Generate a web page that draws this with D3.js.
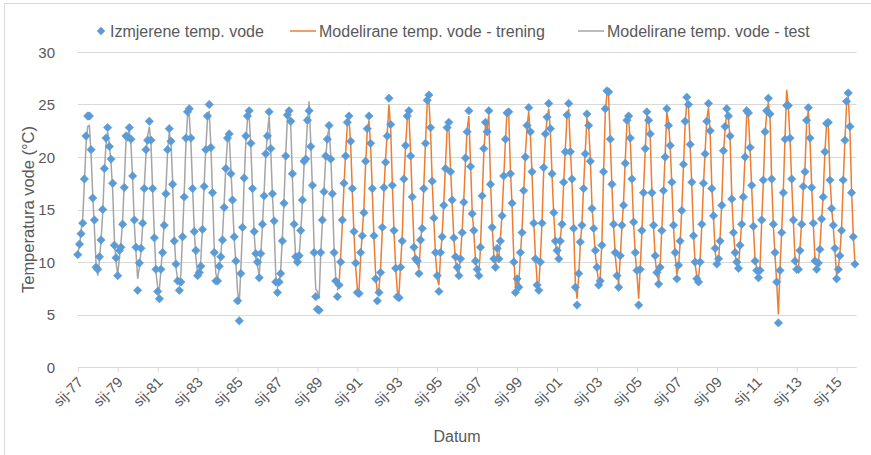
<!DOCTYPE html>
<html><head><meta charset="utf-8">
<script src="https://cdn.jsdelivr.net/npm/d3@7"></script>
<style>body{margin:0;background:#fff}svg{display:block}text{font-family:"Liberation Sans",Arial,sans-serif;fill:#595959}</style>
</head><body><svg id="c" width="871" height="455"></svg>
<script>
// Monthly measured water temperature, Jan 1977 - Dec 2015 (one row per year)
const startYear = 1977;
const measured = [
10.7,11.7,12.7,13.7,17.9,22.0,23.9,23.9,20.7,16.1,14.0,9.5,
9.3,10.5,12.1,15.0,18.9,21.8,22.8,21.0,19.8,17.5,11.6,10.4,
8.7,11.1,11.4,13.6,17.1,22.0,21.9,22.8,21.7,18.2,14.0,11.4,
7.3,9.9,11.3,13.7,17.0,20.7,21.6,23.4,21.6,17.0,12.3,9.3,
7.2,6.5,9.3,10.9,13.5,16.5,20.7,22.7,21.5,17.4,12.0,9.8,
8.2,7.3,8.1,12.4,16.2,21.8,24.3,24.6,21.8,17.0,12.9,11.1,
8.7,9.0,9.6,13.1,17.2,20.7,23.9,25.0,20.9,16.6,10.9,8.2,
8.2,9.6,10.5,12.1,15.2,18.9,21.8,22.2,18.4,15.9,12.4,10.1,
6.3,4.4,8.9,13.3,18.0,22.0,23.9,24.4,21.3,17.0,12.9,10.8,
10.0,8.5,10.8,13.6,16.3,20.3,22.0,24.3,20.8,16.5,13.9,8.1,
7.1,8.1,8.9,12.0,15.6,20.1,24.0,24.4,23.4,18.4,13.6,10.5,
10.0,10.6,13.0,15.9,19.6,19.8,23.5,24.4,21.0,17.3,10.9,6.7,
5.5,5.4,10.9,14.0,16.7,20.1,21.7,23.0,19.8,16.5,10.9,8.2,
6.7,7.8,10.0,14.0,17.5,20.1,23.3,23.9,21.5,17.0,12.9,9.9,
7.1,7.0,10.9,12.5,14.7,19.6,22.7,23.9,21.3,17.0,12.5,8.4,
6.3,7.1,9.0,13.3,17.1,19.5,22.0,25.6,23.1,17.3,13.0,9.4,
6.7,6.6,9.5,12.0,17.9,21.1,23.9,24.4,20.1,16.2,11.4,10.3,
10.1,8.9,12.1,13.2,17.0,21.3,25.4,25.9,22.8,17.7,14.2,10.9,
8.7,7.2,10.9,12.4,15.4,18.9,22.8,23.3,18.6,15.9,12.3,10.5,
9.5,8.7,10.3,12.8,15.7,19.9,22.4,24.4,19.1,14.6,13.0,10.1,
9.3,8.7,11.4,16.3,20.8,23.3,22.4,24.4,17.4,13.3,10.3,9.5,
11.3,10.3,12.0,14.4,18.2,21.7,24.2,24.3,18.4,15.6,10.0,7.1,
8.4,7.6,10.9,12.8,16.8,20.0,23.0,24.7,22.4,18.6,13.7,10.3,
7.8,7.3,10.0,13.7,19.0,22.2,23.8,25.1,22.7,18.4,14.7,12.0,
11.1,10.3,12.0,13.6,17.6,20.5,24.0,25.1,20.5,17.9,13.2,7.6,
5.9,8.9,11.9,13.5,17.0,20.3,24.1,23.0,19.6,15.1,13.2,11.1,
9.5,7.8,8.2,11.6,18.6,24.6,26.3,26.2,21.7,17.4,13.6,10.9,
8.7,7.6,10.6,13.5,15.4,19.4,23.5,23.9,21.8,17.9,13.8,10.9,
9.2,5.9,9.3,13.0,16.6,20.8,24.3,23.5,22.2,16.6,13.5,10.6,
9.0,7.9,9.5,13.0,16.8,20.0,24.6,23.0,21.1,17.6,13.5,10.9,
8.4,9.7,12.0,14.9,19.3,23.4,25.7,25.0,21.2,17.6,12.5,10.0,
8.4,8.1,10.0,13.6,17.5,20.3,23.4,25.1,22.5,17.0,14.4,11.3,
9.8,10.3,12.0,15.4,20.6,22.9,24.6,23.9,22.0,16.0,12.8,10.9,
10.0,9.4,11.6,13.6,16.2,20.0,24.4,24.2,20.9,17.3,13.4,10.1,
9.2,8.5,9.2,14.0,17.8,22.4,24.4,25.6,24.1,17.9,13.6,10.9,
8.1,4.2,9.2,12.8,16.6,21.7,24.9,24.9,21.8,17.9,14.0,10.1,
9.3,9.3,11.1,13.6,17.2,18.6,23.5,24.7,21.8,17.1,13.7,10.1,
9.3,9.9,11.2,14.1,16.2,20.5,23.2,23.3,17.8,15.1,13.5,11.3,
8.4,9.3,10.6,13.0,17.8,21.6,25.3,26.1,22.9,16.6,12.4,9.8
];
// Modelled - test period, Jan 1977 - Dec 1989
const testStartYear = 1977;
const modelTest = [
10.9,11.5,12.9,14.2,17.5,21.2,22.9,23.0,20.2,16.4,13.2,9.8,
8.7,10.2,12.0,14.6,18.4,21.3,22.4,21.2,19.4,16.8,12.2,10.0,
8.8,10.4,11.8,13.9,17.6,21.4,22.2,22.5,21.2,17.9,13.6,10.9,
8.4,9.5,11.0,13.4,17.2,20.2,22.0,22.9,21.2,16.8,12.6,9.0,
7.6,7.4,9.2,11.3,13.9,17.0,20.5,22.4,21.4,17.8,12.5,9.5,
8.3,7.9,8.8,12.6,16.6,21.2,23.9,24.0,21.3,17.2,13.0,10.4,
8.8,9.1,10.2,13.4,17.4,20.9,23.6,24.4,21.0,16.4,11.4,8.9,
8.4,9.4,10.7,12.6,15.6,19.2,21.6,22.0,18.9,15.6,12.2,10.0,
7.2,6.0,9.3,13.0,17.6,21.4,23.5,23.9,21.0,16.9,12.7,10.4,
9.6,8.8,10.6,13.4,16.6,20.1,22.3,23.9,20.6,16.3,13.2,8.8,
7.6,8.0,9.3,12.3,15.9,20.3,23.6,24.0,23.0,18.0,13.4,10.3,
9.8,10.5,12.7,15.7,19.2,20.3,23.2,25.3,21.3,17.0,11.4,7.4,
7.2,6.5,10.6,13.8,16.9,19.8,21.9,22.8,20.2,16.2,11.3,8.6
];
// Modelled - training period, Jan 1990 - Dec 2015
const trainStartYear = 1990;
const modelTrain = [
7.3,8.0,10.4,13.6,17.2,20.4,23.0,23.6,21.2,16.7,12.6,9.5,
7.5,7.4,10.3,12.8,15.2,19.3,22.4,23.5,21.0,16.8,12.2,8.9,
7.0,7.5,9.4,13.0,16.8,19.9,22.3,25.0,22.7,17.6,12.9,9.6,
7.2,7.0,9.7,12.4,17.5,21.0,23.6,24.1,20.4,16.0,11.7,10.0,
9.8,9.3,11.8,13.6,17.3,21.5,25.0,25.5,22.5,17.6,13.9,10.6,
8.4,7.8,10.5,12.6,15.7,19.3,22.6,23.0,18.9,15.7,12.2,10.1,
9.1,8.9,10.6,13.0,16.0,19.6,22.6,23.9,19.4,14.9,12.7,10.2,
9.0,9.0,11.2,15.8,20.3,22.9,22.8,24.0,17.8,13.6,10.6,9.7,
10.8,10.4,12.2,14.6,18.0,21.5,24.5,24.0,18.7,15.3,10.4,7.6,
8.1,7.9,10.6,13.1,16.6,20.3,22.8,24.3,22.1,18.3,13.9,10.6,
8.2,7.7,10.2,13.9,18.7,21.9,23.6,24.6,22.4,18.2,14.5,11.8,
10.8,10.5,12.2,13.9,17.4,20.8,23.8,24.6,20.8,17.6,13.0,8.0,
6.5,8.7,11.6,13.7,17.2,20.6,23.7,23.0,19.8,15.4,13.0,10.8,
9.2,8.1,8.6,12.0,18.3,24.2,26.0,25.8,21.6,17.2,13.4,10.6,
8.9,7.9,10.4,13.3,15.8,19.7,23.2,23.6,21.5,17.7,13.6,10.7,
8.8,6.5,9.4,12.8,16.9,20.6,24.0,23.7,21.8,16.8,13.3,10.3,
8.8,8.2,9.7,13.2,16.6,20.3,24.3,23.3,21.0,17.3,13.3,10.6,
8.8,9.6,11.8,15.1,19.0,23.1,25.3,24.8,21.0,17.3,12.7,9.8,
8.6,8.4,10.2,13.5,17.3,20.6,23.6,24.7,22.2,17.2,14.2,11.0,
9.9,10.2,12.3,15.6,20.3,22.6,24.3,23.7,21.6,16.3,12.9,10.7,
9.8,9.6,11.5,13.8,16.5,20.2,24.0,23.9,20.6,17.0,13.2,10.2,
9.4,8.8,9.5,13.8,17.6,22.1,24.1,25.2,23.7,17.7,13.4,10.6,
8.0,5.0,9.4,12.9,16.8,21.9,26.4,24.8,21.6,17.6,13.8,10.2,
9.5,9.4,11.3,13.8,17.0,19.0,23.3,24.4,21.6,17.3,13.5,10.3,
9.5,10.0,11.5,14.0,16.5,20.6,23.0,23.1,18.1,15.2,13.3,11.0,
8.7,9.4,10.8,13.2,17.6,21.5,25.0,25.7,22.6,16.9,12.6,10.0
];
const tickYears = [1977,1979,1981,1983,1985,1987,1989,1991,1993,1995,1997,1999,2001,2003,2005,2007,2009,2011,2013,2015];
const tickLabels = ["sij-77","sij-79","sij-81","sij-83","sij-85","sij-87","sij-89","sij-91","sij-93","sij-95","sij-97","sij-99","sij-01","sij-03","sij-05","sij-07","sij-09","sij-11","sij-13","sij-15"];
const yTicks = [0,5,10,15,20,25,30];
const seriesNames = ["Izmjerene temp. vode","Modelirane temp. vode - trening","Modelirane temp. vode - test"];

const C = {blue:"#5B9BD5", orange:"#ED7D31", grey:"#A5A5A5", grid:"#D9D9D9"};
const svg = d3.select("#c");
const L = 77.8, R = 856.6, T = 52, B = 367;

const toPts = (arr, y0) => arr.map((v,i)=>({d:new Date(y0, i, 1), v}));
const meas = toPts(measured, startYear);
const test = toPts(modelTest, testStartYear);
const train = toPts(modelTrain, trainStartYear);

const x = d3.scaleTime().domain([new Date(startYear,0,1), new Date(2016,0,1)]).range([L,R]);
const y = d3.scaleLinear().domain([0,30]).range([B,T]);

// border
svg.append("rect").attr("x",4.5).attr("y",3.5).attr("width",880).attr("height",470)
  .attr("fill","none").attr("stroke","#D9D9D9");

// gridlines
svg.append("g").selectAll("line").data(yTicks.filter(t=>t>0)).join("line")
  .attr("x1",L).attr("x2",R).attr("y1",d=>Math.round(y(d))+0.5).attr("y2",d=>Math.round(y(d))+0.5)
  .attr("stroke",C.grid).attr("stroke-width",1);

// y axis labels
const yAxis = d3.axisLeft(y).tickValues(yTicks).tickSize(0).tickPadding(0);
const gy = svg.append("g").attr("transform",`translate(55,0)`).call(yAxis);
gy.select(".domain").remove();
gy.selectAll("text").style("font-size","15px").attr("fill","#595959").attr("dy","0.35em");

// x axis
const tickDates = tickYears.map(yy=>new Date(yy,0,1));
const xAxis = d3.axisBottom(x).tickValues(tickDates).tickSize(5).tickFormat((d,i)=>tickLabels[i]);
const gx = svg.append("g").attr("transform",`translate(0,${Math.round(B)+0.5})`).call(xAxis);
gx.select(".domain").attr("stroke","#D9D9D9").attr("d",`M${L},0H${R}`);
gx.selectAll(".tick line").attr("stroke","#D9D9D9");
gx.selectAll(".tick text").style("font-size","14.5px").attr("fill","#595959")
  .attr("text-anchor","end").attr("x",0).attr("y",0).attr("dy","0.35em")
  .attr("transform","translate(2,12) rotate(-45)");

// lines
const line = d3.line().x(d=>x(d.d)).y(d=>y(d.v));
svg.append("path").datum(test).attr("d",line).attr("fill","none").attr("stroke",C.grey).attr("stroke-width",1.5);
svg.append("path").datum(train).attr("d",line).attr("fill","none").attr("stroke",C.orange).attr("stroke-width",1.5);

// points
const r = 4.2;
const diamond = `M0,${-r}L${r},0L0,${r}L${-r},0Z`;
svg.append("g").selectAll("path").data(meas).join("path")
  .attr("d",diamond).attr("transform",d=>`translate(${x(d.d)},${y(d.v)})`)
  .attr("fill",C.blue).attr("stroke",C.blue).attr("stroke-width",0.6);

// titles
svg.append("text").attr("x",457).attr("y",442).attr("text-anchor","middle").style("font-size","16px").text("Datum");
svg.append("text").attr("transform",`translate(34,${(T+B)/2}) rotate(-90)`).attr("text-anchor","middle").style("font-size","16.5px").text("Temperatura vode (°C)");

// legend
const lg = svg.append("g").style("font-size","16px");
lg.append("path").attr("d",diamond).attr("transform","translate(101,31)").attr("fill",C.blue);
lg.append("text").attr("x",110).attr("y",36.5).text(seriesNames[0]);
lg.append("line").attr("x1",290).attr("x2",316).attr("y1",31).attr("y2",31).attr("stroke",C.orange).attr("stroke-width",1.5);
lg.append("text").attr("x",319).attr("y",36.5).text(seriesNames[1]);
lg.append("line").attr("x1",578).attr("x2",604).attr("y1",31).attr("y2",31).attr("stroke",C.grey).attr("stroke-width",1.5);
lg.append("text").attr("x",607).attr("y",36.5).text(seriesNames[2]);
</script></body></html>
